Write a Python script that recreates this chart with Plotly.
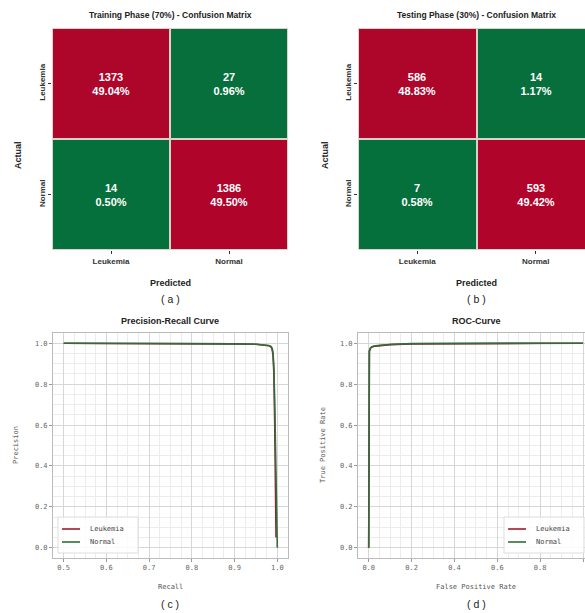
import plotly.graph_objects as go

# ---------------- data ----------------
classes = ["Leukemia", "Normal"]
cm_train = [[1373, 27], [14, 1386]]
cm_test = [[586, 14], [7, 593]]

# precision-recall curve points
pr_leuk_recall = [0.5, 0.6, 0.7, 0.8, 0.9, 0.95, 0.97, 0.98, 0.985, 0.988, 0.990, 0.992, 0.994, 0.995, 0.996, 0.997]
pr_leuk_prec = [1.0, 1.0, 1.0, 0.999, 0.997, 0.995, 0.992, 0.988, 0.982, 0.97, 0.94, 0.85, 0.6, 0.35, 0.15, 0.05]
pr_norm_recall = [0.5, 0.6, 0.7, 0.8, 0.9, 0.95, 0.97, 0.98, 0.985, 0.988, 0.990, 0.992, 0.994, 0.996, 0.998, 1.0]
pr_norm_prec = [1.0, 1.0, 1.0, 0.999, 0.997, 0.995, 0.993, 0.989, 0.984, 0.975, 0.95, 0.88, 0.7, 0.45, 0.2, 0.0]

# ROC curve points
roc_leuk_fpr = [0.0, 0.0, 0.003, 0.008, 0.015, 0.03, 0.06, 0.1, 0.2, 0.4, 0.6, 0.8, 1.0]
roc_leuk_tpr = [0.0, 0.9, 0.96, 0.975, 0.982, 0.986, 0.99, 0.993, 0.997, 0.999, 1.0, 1.0, 1.0]
roc_norm_fpr = [0.0, 0.0, 0.003, 0.008, 0.015, 0.03, 0.06, 0.1, 0.2, 0.4, 0.6, 0.8, 1.0]
roc_norm_tpr = [0.0, 0.9, 0.962, 0.977, 0.983, 0.987, 0.991, 0.994, 0.998, 0.999, 1.0, 1.0, 1.0]

series_names = ["Leukemia", "Normal"]

RED = "#b0042b"
GREEN = "#05703b"
LINE_RED = "#a31a2a"
LINE_GREEN = "#2f6e3c"

W, H = 585, 613


def px_x(a, b):
    return [a / W, b / W]


def px_y(top, bottom):
    return [1 - bottom / H, 1 - top / H]


fig = go.Figure()


def cm_text(cm):
    total = sum(sum(r) for r in cm)
    return [[f"<b>{v}<br>{v / total * 100:.2f}%</b>" for v in row] for row in cm]


for cm, xa, ya in [(cm_train, "x", "y"), (cm_test, "x2", "y2")]:
    fig.add_trace(go.Heatmap(
        z=cm, x=[0, 1], y=[0, 1], text=cm_text(cm), texttemplate="%{text}",
        textfont=dict(color="white", size=11, family="Liberation Sans"),
        colorscale=[[0, GREEN], [1, RED]], showscale=False,
        xgap=2, ygap=2, xaxis=xa, yaxis=ya, hoverinfo="skip"))

# PR curves
fig.add_trace(go.Scatter(x=pr_leuk_recall, y=pr_leuk_prec, mode="lines", name=series_names[0],
                         line=dict(color=LINE_RED, width=1.6), xaxis="x3", yaxis="y3"))
fig.add_trace(go.Scatter(x=pr_norm_recall, y=pr_norm_prec, mode="lines", name=series_names[1],
                         line=dict(color=LINE_GREEN, width=1.6), xaxis="x3", yaxis="y3"))
# ROC curves
fig.add_trace(go.Scatter(x=roc_leuk_fpr, y=roc_leuk_tpr, mode="lines", name=series_names[0],
                         line=dict(color=LINE_RED, width=1.6), xaxis="x4", yaxis="y4"))
fig.add_trace(go.Scatter(x=roc_norm_fpr, y=roc_norm_tpr, mode="lines", name=series_names[1],
                         line=dict(color=LINE_GREEN, width=1.6), xaxis="x4", yaxis="y4"))

cm_tick_font = dict(family="Liberation Sans", size=8, color="#333")
cm_x_common = dict(tickmode="array", tickvals=[0, 1], ticktext=[f"<b>{c}</b>" for c in classes],
                   tickfont=cm_tick_font, ticks="outside", ticklen=3, tickcolor="#333",
                   showgrid=False, zeroline=False, showline=False)
cm_y_common = dict(tickmode="array", tickvals=[0, 1], ticktext=[f"<b>{c}</b>" for c in classes],
                   tickfont=cm_tick_font, ticks="outside", ticklen=3, tickcolor="#333",
                   tickangle=-90, showgrid=False, zeroline=False, showline=False)

mono = "DejaVu Sans Mono"
cur_tick_font = dict(family=mono, size=7, color="#666")
cur_common = dict(showline=True, linecolor="#bbb", linewidth=1, mirror=True,
                  ticks="outside", ticklen=3, tickcolor="#999",
                  showgrid=True, gridcolor="#d6d6d6", gridwidth=0.8, zeroline=False,
                  tickfont=cur_tick_font)

fig.update_layout(
    width=W, height=H, margin=dict(l=0, r=0, t=0, b=0),
    paper_bgcolor="white", plot_bgcolor="#d8d4cc",
    showlegend=False,
    xaxis=dict(domain=px_x(52, 288), range=[-0.5, 1.5], anchor="y", **cm_x_common),
    yaxis=dict(domain=px_y(28, 250), range=[1.5, -0.5], anchor="x", **cm_y_common),
    xaxis2=dict(domain=px_x(358, 585), range=[-0.5, -0.5 + (585 - 358) / 118.5], anchor="y2", **cm_x_common),
    yaxis2=dict(domain=px_y(28, 250), range=[1.5, -0.5], anchor="x2", **cm_y_common),
    xaxis3=dict(domain=px_x(53, 288), range=[0.475, 1.025], anchor="y3", dtick=0.1, tickformat=".1f",
                minor=dict(dtick=0.025, showgrid=True, gridcolor="#ececec", gridwidth=0.6),
                **cur_common),
    yaxis3=dict(domain=px_y(333, 558), range=[-0.05, 1.05], anchor="x3", dtick=0.2, tickformat=".1f",
                minor=dict(dtick=0.05, showgrid=True, gridcolor="#ececec", gridwidth=0.6),
                **cur_common),
    xaxis4=dict(domain=px_x(358, 585), range=[-0.05, 1.009], anchor="y4", dtick=0.2, tickformat=".1f",
                minor=dict(dtick=0.05, showgrid=True, gridcolor="#ececec", gridwidth=0.6),
                **cur_common),
    yaxis4=dict(domain=px_y(333, 558), range=[-0.05, 1.05], anchor="x4", dtick=0.2, tickformat=".1f",
                minor=dict(dtick=0.05, showgrid=True, gridcolor="#ececec", gridwidth=0.6),
                **cur_common),
)

shapes = []
# white backgrounds for curve panels
for xr, yr in [(px_x(53, 288), px_y(333, 558)), (px_x(358, 585), px_y(333, 558))]:
    shapes.append(dict(type="rect", xref="paper", yref="paper", x0=xr[0], x1=xr[1], y0=yr[0], y1=yr[1],
                       fillcolor="white", line=dict(width=0), layer="below"))

ann = []


def txt(x, y, s, size, bold=False, family="Liberation Sans", color="#222", angle=0, xanchor="center"):
    ann.append(dict(x=x / W, y=1 - y / H, xref="paper", yref="paper", text=(f"<b>{s}</b>" if bold else s),
                    showarrow=False, font=dict(family=family, size=size, color=color),
                    textangle=angle, xanchor=xanchor, yanchor="middle"))


# manual legends (compact, like matplotlib)
for lx, ly in [(58, 517), (504, 517)]:
    shapes.append(dict(type="rect", xref="paper", yref="paper",
                       x0=lx / W, x1=(lx + 80) / W, y0=1 - (ly + 36) / H, y1=1 - ly / H,
                       fillcolor="rgba(255,255,255,0.85)", line=dict(color="#dddddd", width=1), layer="above"))
    for i, (name, col) in enumerate(zip(series_names, [LINE_RED, LINE_GREEN])):
        yy = ly + 12 + i * 13
        shapes.append(dict(type="line", xref="paper", yref="paper",
                           x0=(lx + 4) / W, x1=(lx + 22) / W, y0=1 - yy / H, y1=1 - yy / H,
                           line=dict(color=col, width=1.6), layer="above"))
        txt(lx + 30, yy, name, 7, family=mono, color="#444", xanchor="left")

txt(170, 15, "Training Phase (70%) - Confusion Matrix", 8.5, bold=True)
txt(476, 15, "Testing Phase (30%) - Confusion Matrix", 8.5, bold=True)
txt(18, 155, "Actual", 9, bold=True, angle=-90)
txt(325, 155, "Actual", 9, bold=True, angle=-90)
txt(170, 283, "Predicted", 9, bold=True)
txt(476, 283, "Predicted", 9, bold=True)
txt(170, 299, "( a )", 10.5)
txt(476, 299, "( b )", 10.5)
txt(170, 321, "Precision-Recall Curve", 9, bold=True)
txt(476, 321, "ROC-Curve", 9, bold=True)
txt(170, 587, "Recall", 7, family=mono, color="#555")
txt(476, 587, "False Positive Rate", 7, family=mono, color="#555")
txt(16, 445, "Precision", 7, family=mono, color="#555", angle=-90)
txt(323, 445, "True Positive Rate", 7, family=mono, color="#555", angle=-90)
txt(170, 604, "( c )", 10.5)
txt(476, 604, "( d )", 10.5)
fig.update_layout(annotations=ann, shapes=shapes)

fig.write_html("out.html", config={"displayModeBar": False},
               post_script="document.body.style.margin='0';document.body.style.overflow='hidden';")
